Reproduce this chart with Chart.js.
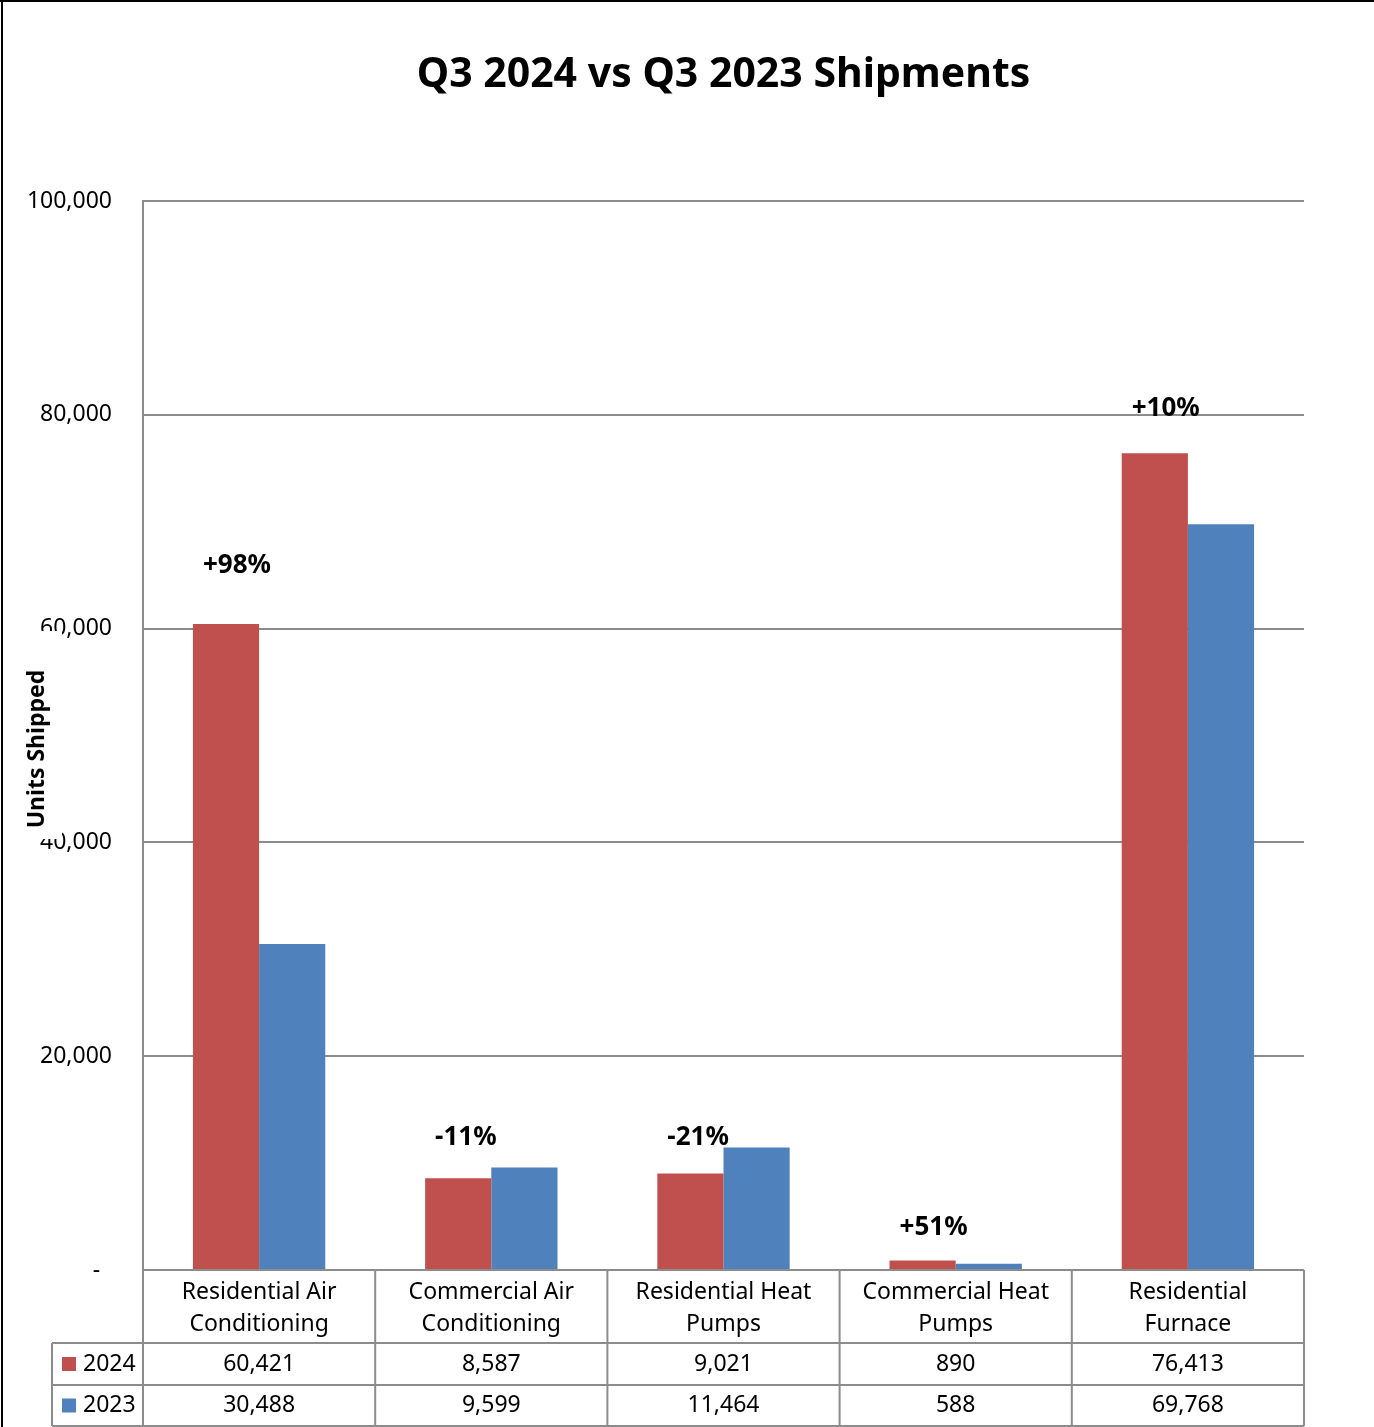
<!DOCTYPE html>
<html>
<head>
<meta charset="utf-8">
<script src="https://cdn.jsdelivr.net/npm/chart.js@4.4.1/dist/chart.umd.min.js"></script>
<style>
  html, body { margin: 0; padding: 0; background: #ffffff; }
  #wrap { width: 1374px; height: 1427px; position: relative; }
</style>
</head>
<body>
<div id="wrap"><canvas id="c" width="1374" height="1427"></canvas></div>
<script>
const categories = [
  ["Residential Air", "Conditioning"],
  ["Commercial Air", "Conditioning"],
  ["Residential Heat", "Pumps"],
  ["Commercial Heat", "Pumps"],
  ["Residential", "Furnace"]
];
const seriesNames = ["2024", "2023"];
const values2024 = [60421, 8587, 9021, 890, 76413];
const values2023 = [30488, 9599, 11464, 588, 69768];
const yTicks = [0, 20000, 40000, 60000, 80000, 100000];
// value (in units) at which each change label sits
const changeLabelAt = [65856, 12348, 12348, 3929, 80543];

const titleText = "Q3 2024 vs Q3 2023 Shipments";
const yTitle = "Units Shipped";
const FONT = "'Noto Sans', 'DejaVu Sans', sans-serif";
const RED = "#C0504D";
const BLUE = "#4F81BD";
const GRID = "#8c8c8c";

function fmt(v) { return v.toLocaleString('en-US'); }
function pct(a, b) {
  const p = Math.round((a / b - 1) * 100);
  return (p >= 0 ? "+" : "") + p + "%";
}

const overlay = {
  id: 'overlay',
  afterDraw(chart) {
    const ctx = chart.ctx;
    const area = chart.chartArea;
    const xs = chart.scales.x;
    const ys = chart.scales.y;
    const n = categories.length;
    const cw = (area.right - area.left) / n;
    ctx.save();

    // title
    ctx.fillStyle = "#000";
    ctx.font = "bold 41px " + FONT;
    ctx.textAlign = "center";
    ctx.textBaseline = "middle";
    ctx.fillText(titleText, (area.left + area.right) / 2, 75);

    // y axis title with white backing
    ctx.fillStyle = "#fff";
    ctx.fillRect(22, 631, 40, 208);
    ctx.save();
    ctx.translate(37, 749);
    ctx.rotate(-Math.PI / 2);
    ctx.fillStyle = "#000";
    ctx.font = "bold 23px " + FONT;
    ctx.textAlign = "center";
    ctx.textBaseline = "middle";
    ctx.fillText(yTitle, 0, 0);
    ctx.restore();

    // change labels
    const meta0 = chart.getDatasetMeta(0);
    ctx.font = "bold 26px " + FONT;
    ctx.textAlign = "left";
    ctx.textBaseline = "middle";
    ctx.fillStyle = "#000";
    for (let i = 0; i < n; i++) {
      const bar = meta0.data[i];
      const left = bar.x - bar.width / 2;
      ctx.fillText(pct(values2024[i], values2023[i]), left + 10, ys.getPixelForValue(changeLabelAt[i]));
    }

    // data table
    const top = area.bottom;
    const r1 = top + 73;
    const r2 = r1 + 42;
    const r3 = 1426;
    const legLeft = 52;
    ctx.strokeStyle = GRID;
    ctx.lineWidth = 2;
    ctx.beginPath();
    ctx.moveTo(area.left, top); ctx.lineTo(area.right, top);
    [r1, r2, r3].forEach(y => { ctx.moveTo(legLeft, y); ctx.lineTo(area.right, y); });
    for (let i = 0; i <= n; i++) {
      const x = area.left + i * cw;
      ctx.moveTo(x, top); ctx.lineTo(x, r3);
    }
    ctx.moveTo(legLeft, r1); ctx.lineTo(legLeft, r3);
    ctx.stroke();

    ctx.fillStyle = "#000";
    ctx.font = "23px " + FONT;
    ctx.textAlign = "center";
    ctx.textBaseline = "middle";
    for (let i = 0; i < n; i++) {
      const cx = xs.getPixelForValue(i);
      const lines = categories[i];
      ctx.fillText(lines[0], cx, top + 22);
      ctx.fillText(lines[1], cx, top + 54);
      ctx.fillText(fmt(values2024[i]), cx, (r1 + r2) / 2);
      ctx.fillText(fmt(values2023[i]), cx, (r2 + r3) / 2);
    }
    const rows = [[(r1 + r2) / 2, RED, seriesNames[0]], [(r2 + r3) / 2, BLUE, seriesNames[1]]];
    ctx.textAlign = "left";
    rows.forEach(([y, col, name]) => {
      ctx.fillStyle = col;
      ctx.fillRect(62, y - 7, 14, 14);
      ctx.fillStyle = "#000";
      ctx.fillText(name, 83, y);
    });

    // outer border
    ctx.fillStyle = "#000";
    ctx.fillRect(0, 0, chart.width, 2);
    ctx.fillRect(1, 0, 2, chart.height);
    ctx.restore();
  }
};

new Chart(document.getElementById('c'), {
  type: 'bar',
  data: {
    labels: categories,
    datasets: [
      { label: seriesNames[0], data: values2024, backgroundColor: RED, borderWidth: 0 },
      { label: seriesNames[1], data: values2023, backgroundColor: BLUE, borderWidth: 0 }
    ]
  },
  options: {
    responsive: false,
    animation: false,
    devicePixelRatio: 1,
    layout: { padding: { left: 0, top: 201, right: 70, bottom: 157 } },
    datasets: { bar: { categoryPercentage: 0.57, barPercentage: 1.0 } },
    plugins: { legend: { display: false }, title: { display: false }, tooltip: { enabled: false } },
    scales: {
      x: { display: false },
      y: {
        min: 0, max: 100000,
        afterFit(scale) { scale.width = 143; },
        afterBuildTicks(scale) { scale.ticks = yTicks.map(v => ({ value: v })); },
        border: { display: true, color: GRID, width: 2 },
        grid: { color: GRID, lineWidth: 2, drawTicks: false },
        ticks: {
          padding: 31,
          color: "#000",
          font: { family: FONT, size: 23 },
          callback: (v) => v === 0 ? "-  " : fmt(v)
        }
      }
    }
  },
  plugins: [overlay]
});
</script>
</body>
</html>
